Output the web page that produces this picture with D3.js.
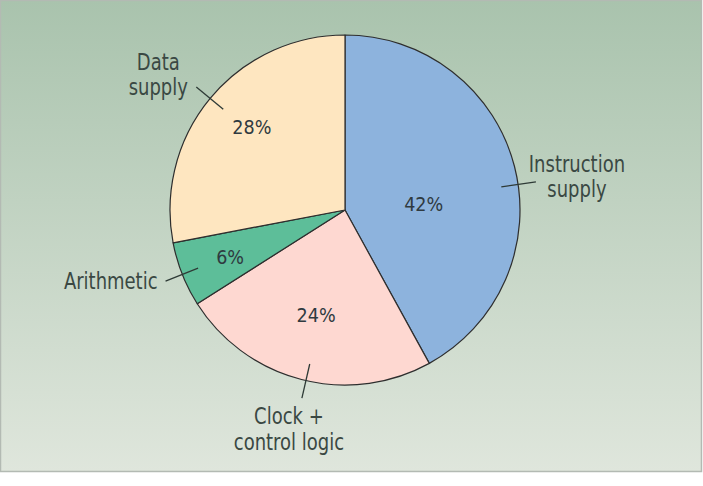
<!DOCTYPE html>
<html>
<head>
<meta charset="utf-8">
<script src="https://cdn.jsdelivr.net/npm/d3@7"></script>
<style>
  html, body { margin: 0; padding: 0; background: #fff; }
  svg { display: block; }
  text { font-family: "DejaVu Sans Condensed", "DejaVu Sans", sans-serif; font-stretch: condensed; }
</style>
</head>
<body>
<div id="chart"></div>
<script>

// ### DATA
var categories = ["Instruction supply", "Clock + control logic", "Arithmetic", "Data supply"];
var shares = [42, 24, 6, 28];
var labelLines = [["Instruction", "supply"], ["Clock +", "control logic"], ["Arithmetic"], ["Data", "supply"]];
var sliceColors = ["#8db3dd", "#fed8d1", "#5dbe99", "#fee6c0"];

// ### LAYOUT
var width = 703, height = 486;
var cx = 345, cy = 210, radius = 175;

// percent label: [angle offset from slice middle (deg), radius]
var pctPos = [[9.7, 79], [1, 109], [-0.5, 124], [2, 124.5]];
// leader line: angle offset from slice middle (deg)
var leaderOffset = [6, -1.5, 0, 0];
var leaderR = [158, 193];
// label text relative to outer end of leader: dx, dy of first baseline, anchor
var labelPos = [
  { dx: 41, dy: -10, anchor: "middle" },
  { dx: -13, dy: 26, anchor: "middle" },
  { dx: -8, dy: 8, anchor: "end" },
  { dx: -38, dy: -17, anchor: "middle" }
];
var lineGap = 25.5;
var tall = 1.12;   // the original face is a tall condensed one

var svg = d3.select("#chart").append("svg")
    .attr("width", width)
    .attr("height", height);

// background panel
var defs = svg.append("defs");
var grad = defs.append("linearGradient")
    .attr("id", "bg")
    .attr("x1", 0).attr("y1", 0).attr("x2", 0).attr("y2", 1);
grad.append("stop").attr("offset", "0%").attr("stop-color", "#a9c3ad");
grad.append("stop").attr("offset", "100%").attr("stop-color", "#dfe6dc");

svg.append("rect")
    .attr("x", 0.5).attr("y", 0.5)
    .attr("width", 701).attr("height", 471)
    .attr("fill", "url(#bg)")
    .attr("stroke", "#b3bab3")
    .attr("stroke-width", 1.5);

var g = svg.append("g")
    .attr("transform", "translate(" + cx + "," + cy + ")");

var pie = d3.pie().sort(null).value(function(d) { return d; });
var arcs = pie(shares);

var arc = d3.arc().innerRadius(0).outerRadius(radius);

g.selectAll("path.slice")
  .data(arcs)
  .enter().append("path")
    .attr("class", "slice")
    .attr("d", arc)
    .attr("fill", function(d, i) { return sliceColors[i]; })
    .attr("stroke", "#2e2e2e")
    .attr("stroke-width", 1.2)
    .attr("stroke-linejoin", "round");

function polar(a, r) {
  return [r * Math.sin(a), -r * Math.cos(a)];
}
function midAngle(d) { return (d.startAngle + d.endAngle) / 2; }
var rad = Math.PI / 180;

// percent labels
g.selectAll("text.pct")
  .data(arcs)
  .enter().append("text")
    .attr("class", "pct")
    .attr("text-anchor", "middle")
    .attr("dy", "0.36em")
    .attr("font-size", 19)
    .attr("fill", "#2f3a40")
    .attr("transform", function(d, i) {
      var p = polar(midAngle(d) + pctPos[i][0] * rad, pctPos[i][1]);
      return "translate(" + p[0] + "," + p[1] + ") scale(1.03,1.04)";
    })
    .text(function(d) { return d.data + "%"; });

// leader lines
g.selectAll("line.leader")
  .data(arcs)
  .enter().append("line")
    .attr("class", "leader")
    .attr("stroke", "#2e3a36")
    .attr("stroke-width", 1.3)
    .each(function(d, i) {
      var a = midAngle(d) + leaderOffset[i] * rad;
      var p1 = polar(a, leaderR[0]), p2 = polar(a, leaderR[1]);
      d3.select(this)
        .attr("x1", p1[0]).attr("y1", p1[1])
        .attr("x2", p2[0]).attr("y2", p2[1]);
    });

// category labels
g.selectAll("text.cat")
  .data(arcs)
  .enter().append("text")
    .attr("class", "cat")
    .attr("font-size", 20)
    .attr("fill", "#3a4843")
    .each(function(d, i) {
      var a = midAngle(d) + leaderOffset[i] * rad;
      var p = polar(a, leaderR[1]);
      var t = d3.select(this)
        .attr("text-anchor", labelPos[i].anchor)
        .attr("transform", "translate(" + (p[0] + labelPos[i].dx) + "," + (p[1] + labelPos[i].dy) + ") scale(1," + tall + ")");
      labelLines[i].forEach(function(line, k) {
        t.append("tspan")
          .attr("x", 0)
          .attr("y", k * lineGap / tall)
          .text(line);
      });
    });

</script>
</body>
</html>
